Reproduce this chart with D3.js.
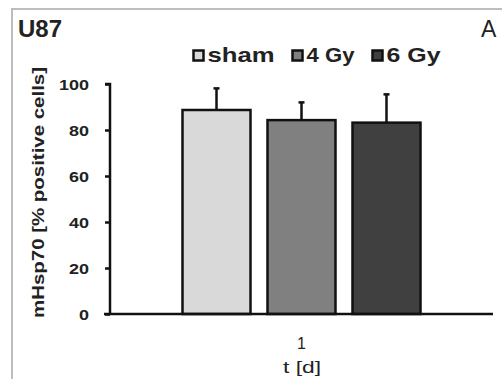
<!DOCTYPE html>
<html>
<head>
<meta charset="utf-8">
<script src="https://cdn.jsdelivr.net/npm/d3@7"></script>
<style>
  html, body { margin: 0; padding: 0; background: #fff; }
  svg { display: block; }
  text { font-family: "Liberation Sans", Arial, sans-serif; }
</style>
</head>
<body>
<svg id="chart" width="502" height="379"></svg>
<script>
// mHsp70 positive U87 cells one day after irradiation
const categories = ["1"];
const seriesNames = ["sham", "4 Gy", "6 Gy"];
const seriesColors = ["#d9d9d9", "#808080", "#404040"];
const means = [88.7, 84.3, 83.2];
const errors = [9.4, 7.7, 12.3];
const yTicks = [0, 20, 40, 60, 80, 100];

const FONT = "'Liberation Sans', Arial, sans-serif";
const svg = d3.select("#chart");

// panel frame
svg.append("rect")
  .attr("x", 12).attr("y", 9).attr("width", 500).attr("height", 380)
  .attr("fill", "none").attr("stroke", "#bdbdbd").attr("stroke-width", 2);

const plot = { left: 110, right: 493, top: 84, bottom: 314 };

const y = d3.scaleLinear().domain([0, 100]).range([plot.bottom, plot.top]);
const x0 = d3.scaleBand().domain(categories).range([plot.left, plot.right]);
const x1 = d3.scaleBand().domain(seriesNames)
  .range([0, x0.bandwidth()]).paddingInner(0.2).paddingOuter(0.853);

// bars with error bars
const groups = svg.append("g").selectAll("g")
  .data(categories).join("g")
  .attr("transform", d => `translate(${x0(d)},0)`);

seriesNames.forEach((s, i) => {
  const bx = x1(s);
  const bw = x1.bandwidth();
  const cx = bx + bw / 2;
  groups.append("rect")
    .attr("x", bx).attr("y", y(means[i]))
    .attr("width", bw).attr("height", y(0) - y(means[i]))
    .attr("fill", seriesColors[i]).attr("stroke", "#111").attr("stroke-width", 2.5);
  groups.append("line")
    .attr("x1", cx).attr("x2", cx)
    .attr("y1", y(means[i])).attr("y2", y(means[i] + errors[i]))
    .attr("stroke", "#111").attr("stroke-width", 2.5);
  groups.append("line")
    .attr("x1", cx - 3).attr("x2", cx + 3)
    .attr("y1", y(means[i] + errors[i])).attr("y2", y(means[i] + errors[i]))
    .attr("stroke", "#111").attr("stroke-width", 2.5);
});

// y axis
const yAxis = d3.axisLeft(y).tickValues(yTicks).tickSize(5).tickPadding(16);
const ya = svg.append("g").attr("transform", `translate(${plot.left},0)`).call(yAxis);
ya.select(".domain").attr("stroke", "#111").attr("stroke-width", 2.5)
  .attr("d", `M-5,${plot.top}H0V${plot.bottom}`);
ya.selectAll(".tick line").attr("stroke", "#111").attr("stroke-width", 2.5);
ya.selectAll(".tick text")
  .attr("font-size", 14).attr("font-weight", "bold").attr("fill", "#222")
  .attr("dy", "0.36em")
  .attr("textLength", d => String(d).length * 10)
  .attr("lengthAdjust", "spacingAndGlyphs")
  .style("font-family", FONT);

// x axis
const xAxis = d3.axisBottom(x0).tickSize(0).tickPadding(24);
const xa = svg.append("g").attr("transform", `translate(0,${plot.bottom})`).call(xAxis);
xa.select(".domain").attr("stroke", "#111").attr("stroke-width", 2.5)
  .attr("d", `M${plot.left - 6},0H${plot.right}`);
xa.selectAll(".tick text")
  .attr("font-size", 16).attr("fill", "#222")
  .style("font-family", FONT);

// axis titles
svg.append("text")
  .attr("transform", `translate(44,192.5) rotate(-90)`)
  .attr("text-anchor", "middle")
  .attr("font-size", 17).attr("font-weight", "bold").attr("fill", "#222")
  .attr("textLength", 251).attr("lengthAdjust", "spacingAndGlyphs")
  .text("mHsp70 [% positive cells]");

svg.append("text")
  .attr("x", 302).attr("y", 373)
  .attr("text-anchor", "middle")
  .attr("font-size", 17).attr("fill", "#222")
  .attr("textLength", 38).attr("lengthAdjust", "spacingAndGlyphs")
  .text("t [d]");

// panel labels
svg.append("text").attr("x", 18).attr("y", 37)
  .attr("font-size", 23).attr("font-weight", "bold").attr("fill", "#222")
  .attr("textLength", 44).attr("lengthAdjust", "spacingAndGlyphs")
  .text("U87");
svg.append("text").attr("x", 481).attr("y", 37)
  .attr("font-size", 23).attr("fill", "#222").text("A");

// legend
const legendX = [192, 291, 371];
const legendW = [67, 48, 54];
const legend = svg.append("g");
seriesNames.forEach((s, i) => {
  legend.append("rect")
    .attr("x", legendX[i] + 1.5).attr("y", 50.5).attr("width", 10).attr("height", 10)
    .attr("fill", seriesColors[i]).attr("stroke", "#111").attr("stroke-width", 2.5);
  legend.append("text")
    .attr("x", legendX[i] + 15.5).attr("y", 62)
    .attr("font-size", 21).attr("font-weight", "bold").attr("fill", "#222")
    .attr("textLength", legendW[i]).attr("lengthAdjust", "spacingAndGlyphs")
    .text(s);
});
</script>
</body>
</html>
